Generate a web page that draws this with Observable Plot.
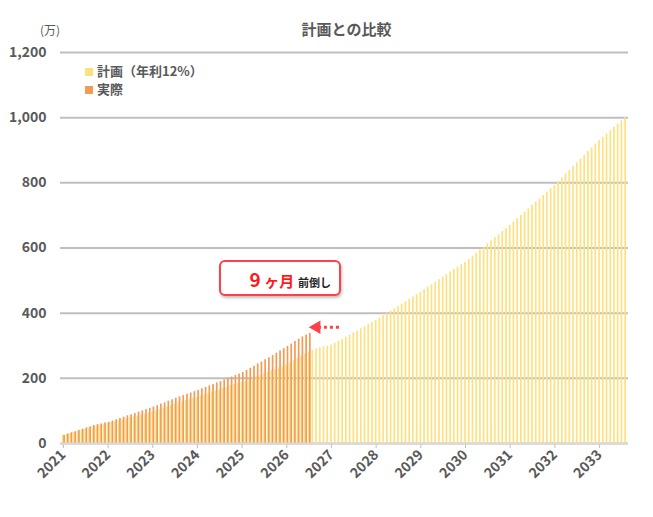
<!DOCTYPE html>
<html><head><meta charset="utf-8">
<script src="https://cdn.jsdelivr.net/npm/d3@7"></script>
<script src="https://cdn.jsdelivr.net/npm/@observablehq/plot@0.6"></script>
<style>
body{margin:0;background:#fff;font-family:"Noto Sans CJK JP","Noto Sans",sans-serif}
#wrap{position:relative;width:653px;height:517px}
.t{position:absolute;color:#595959;font-weight:bold}
</style></head><body>
<div id="wrap">
<div class="t" style="left:0;width:653px;top:18px;text-align:center;font-size:15px;padding-left:40px;box-sizing:border-box">計画との比較</div>
<div class="t" style="left:40px;top:21px;font-size:12px;font-weight:normal">(万)</div>
<div class="t" style="left:85px;top:61px;font-size:13px"><span style="display:inline-block;width:8px;height:8px;background:#ffe07f;margin-right:4px"></span>計画（年利12%）</div>
<div class="t" style="left:85px;top:79px;font-size:13px"><span style="display:inline-block;width:8px;height:8px;background:#f39a55;margin-right:4px"></span>実際</div>
<div style="position:absolute;left:219px;top:260px;border:2px solid #ff4048;border-radius:6px;background:#fff;box-shadow:1px 2px 3px rgba(0,0,0,.25);font-weight:bold;color:#222;line-height:33px;text-align:right;padding-right:8px;box-sizing:border-box;width:122px;height:36px">
<span style="color:#ff1a1a;font-size:19px">9</span> <span style="color:#ff1a1a;font-size:15px">ヶ月</span> <span style="font-size:11px">前倒し</span></div>
<div id="chart" style="position:absolute;left:0;top:0"></div>
</div>
<script>
const years = [2021,2022,2023,2024,2025,2026,2027,2028,2029,2030,2031,2032,2033];
const plan = [
25,28,31,34,38,41,44,47,51,54,57,59,
62,65,67,70,73,76,79,82,84,87,90,93,
96,100,104,108,112,116,120,124,128,132,136,139,
141,145,149,153,157,161,165,169,173,177,181,184,
187,191,196,200,205,209,214,218,223,227,232,236,
240,247,254,261,268,275,280,285,290,294,297,299,
302,308,314,320,326,332,339,345,352,358,365,371,
378,385,392,399,406,413,420,428,435,442,450,457,
464,472,480,487,495,503,511,518,526,534,541,549,
556,565,575,584,594,603,613,622,632,641,651,660,
670,680,690,700,710,720,731,741,751,761,771,782,
792,804,815,827,838,850,861,873,884,896,907,919,
930,940,950,960,970,980,990,1000];
const actual = [
25,29,33,36,40,44,48,51,55,58,60,63,
65,69,73,77,81,85,88,92,96,100,104,108,
112,116,121,125,130,134,139,143,147,151,155,159,
163,168,172,177,181,186,190,195,200,204,209,213,
218,224,231,237,244,250,257,263,270,277,284,291,
298,305,313,320,327,333,338];
const yTicks = [0,200,400,600,800,1000,1200];
const planData = plan.map((v,i)=>({i,v}));
const actData = actual.map((v,i)=>({i,v}));
const idx = d3.range(plan.length);
const arrowData = [{x1:actual.length+7,x2:actual.length+1,y:357}];
const chart = Plot.plot({
  width:653,height:517,marginTop:52,marginBottom:74,marginLeft:60,marginRight:25,
  style:{fontFamily:"'Noto Sans CJK JP','Noto Sans',sans-serif",fontSize:"13px",color:"#595959",fontWeight:"bold",background:"transparent"},
  x:{type:"band",domain:idx,padding:0.55,label:null},
  y:{domain:[0,1200],label:null},
  marks:[
    Plot.ruleY(yTicks,{stroke:"#bfbfbf",strokeWidth:2}),
    Plot.barY(planData,{x:"i",y:"v",fill:"#ffe07f"}),
    Plot.barY(actData,{x:"i",y:"v",fill:"#f39a55",dx:1.2}),
    Plot.axisY({ticks:yTicks,tickFormat:d3.format(","),tickSize:0,tickPadding:14,fontSize:14}),
    Plot.axisX({ticks:idx.filter(i=>i%12===0),tickFormat:i=>String(years[i/12]),tickRotate:-45,tickSize:5,stroke:"#bfbfbf",fontSize:14,textAnchor:"end",tickPadding:4}),
    Plot.ruleY([0],{stroke:"#d9d9d9",strokeWidth:2}),
    Plot.link(arrowData,{x1:"x1",x2:"x2",y1:"y",y2:"y",stroke:"#ff4048",strokeWidth:3,strokeDasharray:"3,3"}),
    Plot.dot(arrowData,{x:"x2",y:"y",symbol:"triangle",r:5,fill:"#ff4048",rotate:-90})
  ]
});
document.getElementById("chart").appendChild(chart);
</script>
</body></html>
